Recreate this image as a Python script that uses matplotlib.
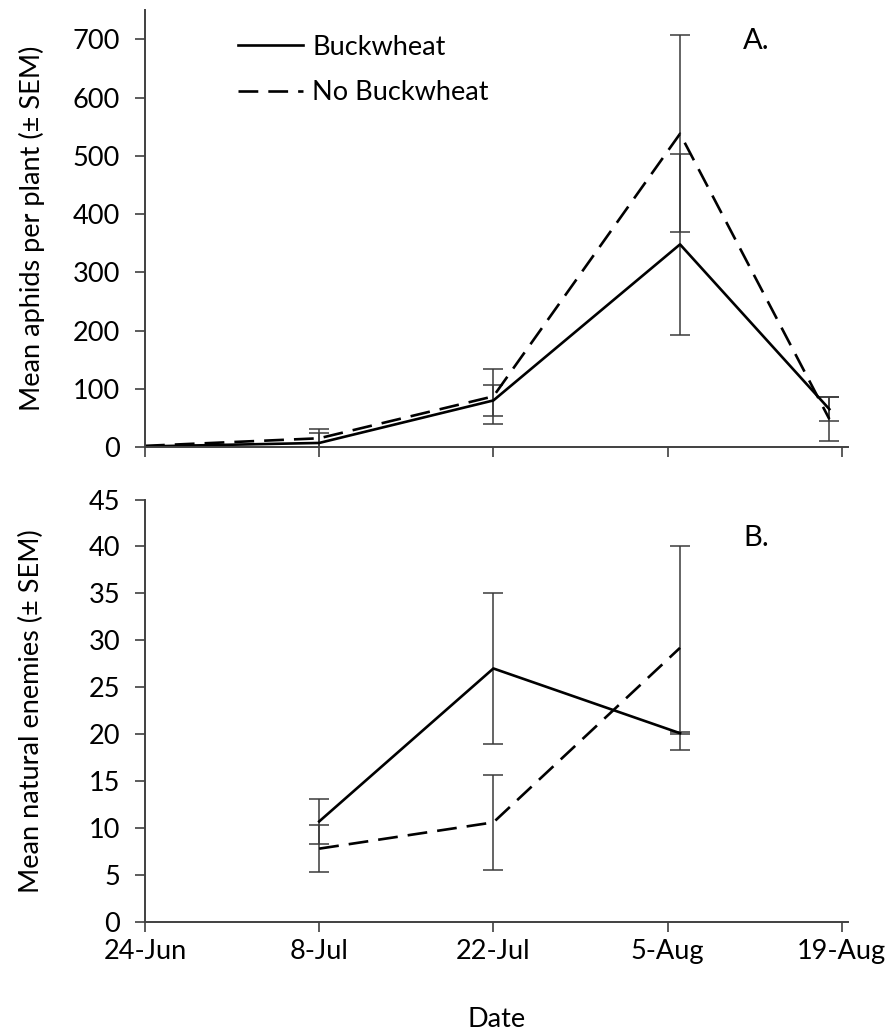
import matplotlib
matplotlib.use("Agg")
import matplotlib.pyplot as plt

plt.rcParams['font.family'] = ['Lato', 'DejaVu Sans']

# days since 24-Jun
tick_days = [0, 14, 28, 42, 56]
tick_labels = ['24-Jun', '8-Jul', '22-Jul', '5-Aug', '19-Aug']

# panel A: aphids
aphid_days = [0, 14, 28, 43, 55]
aphid_bw = [1, 7, 80, 348, 65]
aphid_bw_se = [0, 17, 27, 155, 21]
aphid_nobw = [2, 15, 87, 538, 48]
aphid_nobw_se = [0, 16, 47, 169, 38]

# panel B: natural enemies
enemy_days = [14, 28, 43]
enemy_bw = [10.7, 27.0, 20.1]
enemy_bw_se = [2.4, 8.0, 0.1]
enemy_nobw = [7.8, 10.6, 29.2]
enemy_nobw_se = [2.5, 5.1, 10.9]

fig = plt.figure(figsize=(8.95, 10.3), dpi=100)
axA = fig.add_axes([0.162, 0.566, 0.7855, 0.424])
axB = fig.add_axes([0.162, 0.105, 0.7855, 0.410])

spine_col = '#404040'
fs = 19.5
err_kw = dict(fmt='none', ecolor='#3a3a3a', elinewidth=1.1, capsize=7, capthick=1.1)


def draw(ax, days, bw, bw_se, nobw, nobw_se):
    ax.errorbar(days, bw, yerr=bw_se, **err_kw)
    ax.errorbar(days, nobw, yerr=nobw_se, **err_kw)
    ax.plot(days, bw, color='black', lw=1.9, label='Buckwheat')
    l, = ax.plot(days, nobw, color='black', lw=1.9, label='No Buckwheat')
    l.set_dashes([7.5, 3.8])
    for s in ['top', 'right']:
        ax.spines[s].set_visible(False)
    for s in ['left', 'bottom']:
        ax.spines[s].set_color(spine_col)
        ax.spines[s].set_linewidth(1.4)
    ax.set_xlim(0, 56.5)
    ax.set_xticks(tick_days)
    ax.tick_params(axis='both', direction='out', length=7, width=1.2,
                   color=spine_col, labelsize=fs)
    ax.tick_params(axis='y', pad=11)


draw(axA, aphid_days, aphid_bw, aphid_bw_se, aphid_nobw, aphid_nobw_se)
axA.set_ylim(0, 750)
axA.set_yticks(range(0, 701, 100))
axA.set_xticklabels([])
axA.set_ylabel('Mean aphids per plant (± SEM)', fontsize=fs, labelpad=20)
axA.text(0.851, 0.93, 'A.', transform=axA.transAxes, fontsize=21, va='center')
leg = axA.legend(loc='upper left', bbox_to_anchor=(0.097, 1.0), frameon=False,
                 fontsize=fs, handlelength=2.4, handletextpad=0.35, labelspacing=0.75)

draw(axB, enemy_days, enemy_bw, enemy_bw_se, enemy_nobw, enemy_nobw_se)
axB.set_ylim(0, 45)
axB.set_yticks(range(0, 46, 5))
axB.set_xticklabels(tick_labels)
axB.tick_params(axis='x', pad=5)
axB.set_xlabel('Date', fontsize=fs, labelpad=31)
axB.set_ylabel('Mean natural enemies (± SEM)', fontsize=fs, labelpad=32)
axB.text(0.851, 0.91, 'B.', transform=axB.transAxes, fontsize=21, va='center')

fig.savefig('out.png', dpi=100)
